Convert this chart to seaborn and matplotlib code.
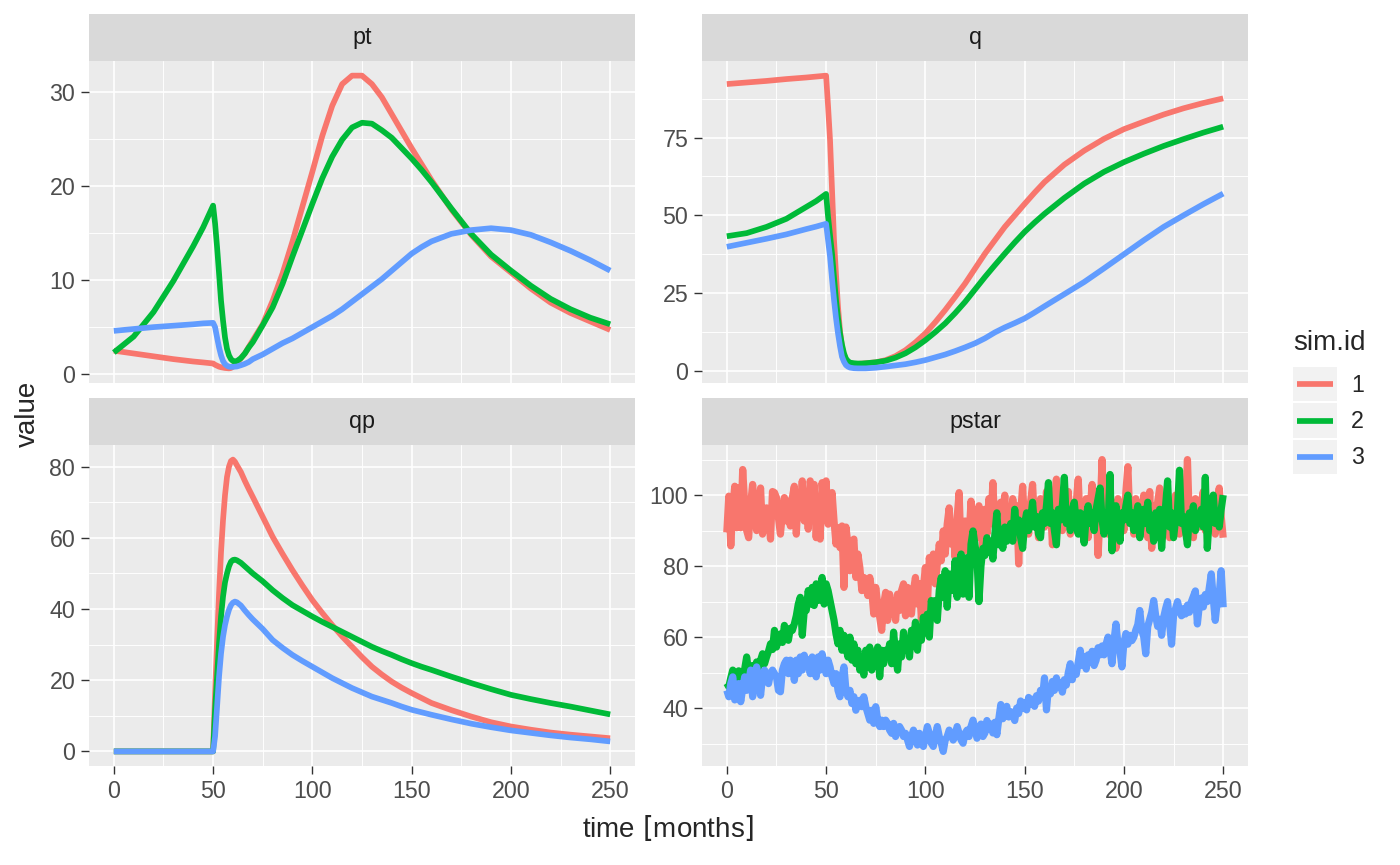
"""
Simulation runs (pt, q, qp, pstar) for three sim ids, faceted.

"""
import pandas as pd
import matplotlib
matplotlib.use('Agg')
import matplotlib.pyplot as plt
from matplotlib.patches import Rectangle
from matplotlib.lines import Line2D
from matplotlib.legend_handler import HandlerBase
from matplotlib.ticker import MultipleLocator
import seaborn as sns

SIM_IDS = ['1', '2', '3']
SIM_COLORS = ['#F8766D', '#00BA38', '#619CFF']
PANELS = ['pt', 'q', 'qp', 'pstar']
Y_STEPS = {'pt': 10, 'q': 25, 'qp': 20, 'pstar': 20}

# months at which the smooth series were read
T_SMOOTH = [0, 10, 20, 30, 40, 45, 50,
            51, 52, 53, 54, 55, 56, 57, 58, 59, 60, 61, 62,
            64, 66, 68, 70,
            75, 80, 85, 90, 95, 100, 105, 110, 115, 120, 125, 130, 135, 140, 145, 150, 155, 160,
            170, 180, 190, 200, 210, 220, 230, 240, 250]

PT_1 = [2.5, 2.2, 1.9, 1.6, 1.35, 1.25, 1.14,
        1.0, 0.9, 0.8, 0.74, 0.7, 0.66, 0.64, 0.62, 0.66, 0.8, 1.0, 1.2,
        1.7, 2.2, 2.9, 3.6,
        5.3, 7.8, 10.7, 14.1, 17.8, 21.5, 25.3, 28.5, 30.8, 31.7, 31.7, 30.8, 29.4, 27.6, 25.8, 24.0, 22.3, 20.6,
        17.5, 14.8, 12.5, 10.8, 9.1, 7.6, 6.5, 5.6, 4.7]
PT_2 = [2.3, 4.0, 6.6, 9.9, 13.6, 15.6, 17.9,
        16.0, 13.5, 10.7, 7.8, 5.7, 3.9, 2.7, 2.0, 1.6, 1.4, 1.35, 1.4,
        1.7, 2.2, 2.85, 3.4,
        5.2, 7.1, 9.6, 12.5, 15.3, 18.1, 20.8, 23.1, 24.9, 26.2, 26.7, 26.6, 25.9, 25.1, 24.0, 22.9, 21.7, 20.4,
        17.6, 14.9, 12.7, 11.0, 9.4, 8.0, 6.9, 6.0, 5.3]
PT_3 = [4.6, 4.8, 5.0, 5.15, 5.3, 5.4, 5.45,
        5.0, 3.9, 2.85, 2.0, 1.4, 1.07, 0.9, 0.8, 0.78, 0.78, 0.8, 0.82,
        0.95, 1.1, 1.3, 1.6,
        2.1, 2.7, 3.3, 3.8, 4.4, 5.0, 5.6, 6.2, 6.9, 7.7, 8.5, 9.3, 10.1, 11.0, 11.9, 12.8, 13.5, 14.1,
        14.9, 15.3, 15.5, 15.3, 14.8, 14.0, 13.1, 12.1, 11.0]

Q_1 = [92.2, 92.7, 93.2, 93.8, 94.3, 94.6, 94.9,
       85.0, 74.0, 58.0, 42.0, 31.0, 20.6, 13.0, 7.8, 5.2, 3.5, 2.9, 2.5,
       2.3, 2.3, 2.4, 2.5,
       2.8, 3.5, 4.8, 6.7, 9.2, 12.1, 15.7, 19.6, 23.8, 28.1, 32.9, 37.7, 42.0, 46.3, 50.0, 53.7, 57.3, 60.7,
       66.3, 70.8, 74.6, 77.7, 80.1, 82.4, 84.4, 86.1, 87.6]
Q_2 = [43.3, 44.3, 46.3, 48.9, 52.7, 54.6, 56.9,
       49.5, 43.5, 37.7, 30.0, 22.8, 17.0, 12.1, 8.5, 5.7, 4.0, 3.2, 2.7,
       2.5, 2.4, 2.4, 2.5,
       2.8, 3.3, 4.3, 5.7, 7.6, 9.9, 12.5, 15.3, 18.6, 22.2, 26.2, 30.2, 34.0, 37.7, 41.3, 44.7, 47.7, 50.5,
       55.6, 60.2, 64.0, 67.1, 69.8, 72.3, 74.5, 76.6, 78.5]
Q_3 = [39.9, 41.2, 42.5, 43.9, 45.6, 46.4, 47.3,
       42.0, 36.6, 29.5, 22.8, 17.0, 12.1, 8.0, 4.6, 3.0, 1.9, 1.4, 1.1,
       0.9, 0.85, 0.85, 0.85,
       1.05, 1.4, 1.8, 2.2, 2.8, 3.5, 4.4, 5.3, 6.4, 7.6, 8.9, 10.5, 12.4, 14.0, 15.4, 16.9, 18.8, 20.8,
       24.7, 28.6, 33.0, 37.5, 42.0, 46.3, 50.0, 53.6, 57.0]

QP_1 = [0, 0, 0, 0, 0, 0, 0,
        16.4, 31.0, 44.4, 56.0, 65.0, 72.0, 77.1, 80.0, 81.6, 82.0, 81.4, 80.4,
        78.5, 76.0, 73.7, 71.5,
        65.9, 60.3, 55.5, 50.9, 46.6, 42.5, 38.9, 35.5, 32.3, 29.4, 26.5, 23.8, 21.6, 19.6, 17.9, 16.4, 15.0, 13.6,
        11.6, 9.8, 8.2, 7.0, 6.1, 5.3, 4.7, 4.2, 3.7]
QP_2 = [0, 0, 0, 0, 0, 0, 0,
        11.7, 21.0, 30.4, 38.0, 43.5, 47.5, 50.0, 52.0, 53.3, 53.8, 53.9, 53.7,
        53.0, 52.0, 51.0, 50.0,
        47.8, 45.3, 43.1, 41.1, 39.5, 37.9, 36.4, 35.0, 33.6, 32.2, 30.8, 29.4, 28.2, 27.1, 25.9, 24.8, 23.8, 22.9,
        21.0, 19.2, 17.5, 15.9, 14.7, 13.6, 12.6, 11.5, 10.4]
QP_3 = [0, 0, 0, 0, 0, 0, 0,
        4.2, 12.5, 21.0, 27.5, 32.2, 35.5, 37.9, 39.8, 41.1, 41.8, 42.1, 41.9,
        41.0, 39.6, 38.3, 37.1,
        34.4, 31.3, 29.1, 27.1, 25.4, 23.8, 22.2, 20.6, 19.2, 17.8, 16.6, 15.4, 14.5, 13.6, 12.6, 11.7, 11.0, 10.3,
        9.0, 7.8, 6.8, 5.9, 5.2, 4.5, 3.9, 3.4, 2.8]

# pstar is noisy, read month by month
MONTHS = list(range(0, 251))

PSTAR_1 = [
    89.5, 99.7, 85.7, 96.4, 102.5, 90.8, 102.0, 90.8, 107.2, 97.4,
    90.0, 88.0, 97.4, 103.0, 95.5, 90.0, 96.4, 102.0, 89.0, 96.0,
    96.4, 94.6, 87.6, 101.0, 100.7, 99.3, 93.6, 89.0, 95.0, 99.3,
    92.7, 98.3, 91.3, 99.3, 102.5, 89.0, 100.2, 96.0, 104.0, 92.7,
    101.0, 90.4, 104.0, 99.3, 103.0, 88.0, 97.9, 87.6, 103.5, 95.5,
    104.0, 91.8, 97.9, 100.7, 92.7, 86.2, 90.8, 85.2, 91.3, 74.0,
    91.0, 86.2, 78.7, 86.2, 87.6, 76.8, 83.4, 79.6, 73.1, 76.8,
    75.0, 71.7, 76.8, 73.1, 66.5, 74.0, 69.3, 65.6, 61.9, 69.3,
    72.6, 64.7, 72.1, 66.5, 70.3, 64.7, 72.1, 67.5, 73.1, 75.0,
    66.0, 74.0, 70.3, 66.5, 73.1, 76.8, 69.3, 75.0, 65.1, 74.0,
    79.6, 68.4, 82.4, 76.8, 83.4, 75.0, 80.6, 86.2, 81.5, 89.9,
    83.4, 91.8, 96.4, 86.2, 90.8, 82.4, 93.6, 100.7, 83.4, 89.9,
    92.7, 84.3, 88.0, 98.3, 91.8,
    94, 88, 97, 90, 85, 96, 89, 99, 92, 103.5,
    91, 96, 88, 98, 93, 100, 90, 96, 88, 99,
    94, 97, 80.6, 95, 102.5, 91, 97, 89, 98, 103,
    92, 96, 88, 99, 94, 91, 101, 93, 97, 86,
    98, 104.5, 92, 97, 90, 99, 93, 101, 89, 96,
    92, 98, 104.5, 91, 97, 93, 99, 88, 96, 103,
    92, 97, 83, 95, 110, 91, 98, 89, 100, 94,
    97, 85, 99, 92, 96, 90, 101, 108, 93, 97,
    89, 99, 93, 96, 91, 100, 94, 88, 101, 85,
    97, 92, 98, 102, 90, 96, 93, 99, 88, 97,
    92, 100, 94, 89, 98, 93, 96, 110, 92, 97,
    88, 99, 94, 91, 98, 101, 90, 96, 92, 99,
    93, 89, 97, 102, 94, 88]

PSTAR_2 = [
    47.0, 46.0, 48.5, 50.7, 47.5, 48.8, 50.5, 47.0, 47.9, 51.0,
    54.4, 50.0, 49.7, 52.0, 50.5, 53.0, 51.5, 53.5, 55.3, 52.5,
    54.4, 56.0, 58.1, 56.5, 61.9, 57.2, 59.5, 60.9, 58.5, 63.3,
    60.0, 59.1, 62.5, 61.9, 63.7, 66.0, 69.3, 71.2, 60.5, 67.5,
    67.5, 73.1, 69.3, 74.0, 68.9, 75.0, 70.3, 73.1, 76.8, 69.3,
    75.0, 73.1, 70.3, 67.5, 64.7, 60.9, 58.1, 61.9, 56.3, 60.5,
    57.2, 54.4, 60.0, 53.5, 58.1, 52.5, 56.3, 50.7, 54.4, 49.3,
    56.3, 51.6, 57.2, 50.7, 55.3, 53.5, 57.2, 48.8, 56.3, 52.5,
    56.3, 54.4, 58.1, 52.5, 61.4, 55.3, 50.7, 58.1, 54.4, 61.4,
    56.3, 59.1, 54.4, 61.9, 58.1, 64.2, 56.3, 61.9, 59.1, 65.6,
    61.9, 66.5, 60.0, 70.3, 66.5, 70.3, 64.7, 73.1, 76.8, 71.2,
    78.7, 68.4, 77.8, 74.0, 73.1, 81.5, 71.2, 80.6, 83.4, 72.1,
    76.0, 82.4, 71.2, 86.2, 89.9,
    86, 82, 70, 80, 85, 83, 88, 84, 87, 82,
    89, 95, 86, 90, 85, 91, 87, 89, 92, 87,
    96, 90, 93, 88, 85, 92, 95, 90, 93, 98,
    91, 94, 89, 88, 95, 92, 97, 103.5, 92, 95,
    90, 86, 96, 93, 97, 105, 92, 95, 90, 96,
    98, 92, 89, 95, 91, 86.5, 94, 97, 92, 95,
    90, 96, 99, 102, 93, 89, 95, 91, 105.8, 84.3,
    94, 97, 92, 87, 95, 93, 97, 100, 92, 95,
    90, 94, 97, 88, 93, 96, 92, 98, 90, 94,
    87, 95, 92, 96, 85, 93, 97, 104, 91, 95,
    88, 93, 96, 107, 92, 94, 90, 86, 95, 93,
    97, 90, 94, 92, 96, 91, 105, 85, 94, 97,
    100, 92, 95, 91, 96, 100]

PSTAR_3 = [
    45.0, 43.2, 46.9, 48.8, 42.3, 45.0, 46.9, 41.8, 45.5, 48.8,
    45.0, 46.9, 50.7, 43.2, 46.9, 51.6, 48.8, 43.6, 48.8, 50.7,
    49.7, 46.9, 49.7, 50.7, 49.7, 48.8, 45.0, 44.6, 50.7, 52.5,
    53.5, 49.7, 53.5, 52.5, 47.8, 53.5, 49.7, 54.4, 50.7, 54.9,
    52.5, 53.5, 49.7, 54.4, 51.6, 48.8, 54.4, 50.7, 55.3, 52.5,
    49.7, 53.5, 51.6, 48.8, 46.9, 49.7, 45.0, 43.2, 48.8, 51.6,
    45.0, 43.2, 45.0, 41.3, 43.2, 39.4, 41.3, 42.2, 40.4, 43.2,
    40.4, 38.5, 36.6, 39.4, 35.7, 40.4, 36.6, 34.8, 36.6, 34.8,
    36.6, 35.7, 33.8, 32.9, 35.7, 32.0, 33.8, 34.8, 33.8, 32.0,
    32.9, 31.0, 29.2, 32.0, 33.8, 32.0, 29.6, 32.9, 31.0, 29.2,
    32.0, 34.8, 32.9, 30.1, 29.2, 32.0, 34.8, 32.0, 30.1, 27.8,
    31.0, 32.0, 33.8, 32.9, 31.0, 32.0, 34.8, 32.9, 31.0, 30.1,
    32.9, 33.8, 32.0, 34.8, 36.6,
    34, 31.5, 33, 35.5, 32, 33, 36.5, 34, 35.5, 33,
    36, 32.5, 37, 41, 37, 39.5, 40.5, 37.5, 39, 38,
    36.5, 40, 38.5, 42, 40, 41.5, 39.5, 43, 41, 42.5,
    40.5, 43.5, 42, 45, 43, 48.5, 39.5, 46, 44, 47.5,
    45, 48.5, 46, 47, 44.5, 48, 46.5, 50, 52.5, 48,
    51, 49.5, 53, 56.3, 52, 54.5, 51, 55, 53, 56,
    52, 53.5, 57, 55, 57.5, 55, 58, 60, 56.5, 52.5,
    59, 63.7, 58, 56, 51.6, 58.5, 61, 58, 60.5, 59,
    60, 62, 63.5, 67.5, 62, 60, 55.3, 63, 65, 67,
    70.3, 66, 63, 65, 60.5, 65.5, 68, 70, 64, 58,
    66, 68, 70, 67.5, 66, 68, 66.5, 69, 67, 70,
    71.5, 73, 63.7, 69, 71, 68.5, 72, 70, 74, 77.8,
    71, 64.7, 70, 72, 78.7, 68.4]

LINE_W = 2.05
NOISY_LINE_W = 2.6
W, H = 1400, 865


class KeyHandler(HandlerBase):
    """ggplot style legend key: grey box with a short line."""

    def create_artists(self, legend, orig_handle, xdescent, ydescent,
                       width, height, fontsize, trans):
        box = Rectangle((-xdescent, -ydescent), width, height,
                        facecolor='#F2F2F2', edgecolor='none', transform=trans)
        y = -ydescent + height / 2
        line = Line2D([-xdescent + 0.09 * width, -xdescent + 0.91 * width], [y, y],
                      color=orig_handle.get_color(), lw=orig_handle.get_linewidth(),
                      solid_capstyle='butt', transform=trans)
        return [box, line]


def build_frame():
    """

    """
    smooth = {
        'pt': [PT_1, PT_2, PT_3],
        'q': [Q_1, Q_2, Q_3],
        'qp': [QP_1, QP_2, QP_3],
    }
    frames = []
    for panel, series in smooth.items():
        for sim_id, values in zip(SIM_IDS, series):
            frames.append(pd.DataFrame({'time': T_SMOOTH, 'value': values,
                                        'sim.id': sim_id, 'variable': panel}))
    for sim_id, values in zip(SIM_IDS, [PSTAR_1, PSTAR_2, PSTAR_3]):
        frames.append(pd.DataFrame({'time': MONTHS, 'value': values,
                                    'sim.id': sim_id, 'variable': 'pstar'}))
    return pd.concat(frames, ignore_index=True)


def plot_simulations(data):
    """

    """
    sns.set_theme(style='darkgrid', rc={'axes.facecolor': '#EBEBEB',
                                        'grid.color': 'white',
                                        'figure.facecolor': 'white'})
    plt.rcParams['font.family'] = ['Liberation Sans', 'DejaVu Sans']

    g = sns.FacetGrid(data, col='variable', col_order=PANELS, col_wrap=2,
                      sharex=True, sharey=False, height=2, aspect=1.5, despine=False)
    g.map_dataframe(sns.lineplot, x='time', y='value', hue='sim.id',
                    hue_order=SIM_IDS, palette=dict(zip(SIM_IDS, SIM_COLORS)),
                    estimator=None, errorbar=None, linewidth=LINE_W,
                    solid_capstyle='butt', legend=False)
    g.set_titles('')
    g.set_axis_labels('', '')

    fig = g.figure
    fig.set_size_inches(W / 200, H / 200)

    col_x = [89 / W, 702 / W]
    row_y = [1 - 383 / H, 1 - 766 / H]
    heights = [322 / H, 321 / H]
    strip_h = 47 / H

    for i, (ax, panel) in enumerate(zip(g.axes.flat, PANELS)):
        r, c = divmod(i, 2)
        ax.set_position([col_x[c], row_y[r], 546 / W, heights[r]])
        for s in ax.spines.values():
            s.set_visible(False)
        if panel == 'pstar':
            # the monthly noise reads as a thicker band in the original
            for line in ax.get_lines():
                line.set_linewidth(NOISY_LINE_W)
        ax.xaxis.set_major_locator(MultipleLocator(50))
        ax.xaxis.set_minor_locator(MultipleLocator(25))
        ax.yaxis.set_major_locator(MultipleLocator(Y_STEPS[panel]))
        ax.yaxis.set_minor_locator(MultipleLocator(Y_STEPS[panel] / 2))
        ax.grid(which='major', color='white', lw=0.6)
        ax.grid(which='minor', color='white', lw=0.33)
        ax.tick_params(which='minor', length=0)
        ax.tick_params(which='major', length=2.75, width=0.5, color='#333333',
                       labelcolor='#4D4D4D', labelsize=8.4, pad=2.2)
        ax.tick_params(axis='x', labelbottom=(r == 1), bottom=(r == 1))
        ax.tick_params(axis='y', left=True, labelleft=True)
        ax.set_xlabel('')
        ax.set_ylabel('')

        pos = ax.get_position()
        fig.add_artist(Rectangle((pos.x0, pos.y1), pos.width, strip_h,
                                 transform=fig.transFigure,
                                 facecolor='#D9D9D9', edgecolor='none'))
        fig.text(pos.x0 + pos.width / 2, pos.y1 + strip_h / 2, panel,
                 ha='center', va='center', fontsize=8.4, color='#1A1A1A')

    fig.text(668 / W, 1 - 837 / H, r'time $\left[\mathregular{months}\right]$',
             ha='center', va='baseline', fontsize=10)
    fig.text(28 / W, 1 - 414 / H, 'value', rotation=90,
             ha='center', va='center', fontsize=10)

    # legend
    fig.text(1293 / W, 1 - 350 / H, 'sim.id', ha='left', va='baseline', fontsize=10)
    handles = [Line2D([], [], color=c, lw=LINE_W) for c in SIM_COLORS]
    fig.legend(handles, SIM_IDS, loc='upper left',
               bbox_to_anchor=(1293 / W, 1 - 367 / H), bbox_transform=fig.transFigure,
               frameon=False, fontsize=8.4, handlelength=1.89, handleheight=1.89,
               labelspacing=0.086, handletextpad=0.6, borderpad=0, borderaxespad=0,
               handler_map={Line2D: KeyHandler()})

    fig.savefig('out.png', dpi=200, facecolor='white')

    return 'Complete'


if __name__ == '__main__':

    data = build_frame()

    print('Plotting simulations')
    plot_simulations(data)

    print('Complete')
